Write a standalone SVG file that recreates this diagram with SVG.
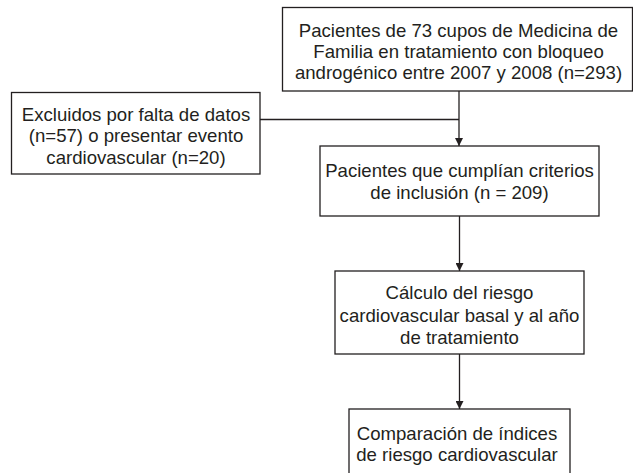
<svg xmlns="http://www.w3.org/2000/svg" width="633" height="473" viewBox="0 0 633 473">
<style>
.box{fill:#fff;stroke:#231f20;stroke-width:1.3}
.t{font-family:"Liberation Sans",Arial,sans-serif;font-size:18.6px;fill:#231f20;text-anchor:middle}
.c{stroke:#231f20;stroke-width:1.3;fill:none}
</style>
<defs>
<marker id="ah" viewBox="0 0 10 10" refX="10" refY="5" markerWidth="8" markerHeight="8" markerUnits="userSpaceOnUse" orient="auto">
<path d="M0,0 L10,5 L0,10 z" fill="#231f20"/>
</marker>
</defs>
<rect width="633" height="473" fill="#fff"/>
<g id="connectors">
<line class="c" x1="459" y1="91" x2="459" y2="146" marker-end="url(#ah)"/>
<line class="c" x1="260" y1="119.5" x2="459" y2="119.5"/>
<line class="c" x1="459.5" y1="216" x2="459.5" y2="271" marker-end="url(#ah)"/>
<line class="c" x1="459.5" y1="354" x2="459.5" y2="409" marker-end="url(#ah)"/>
</g>
<g id="n1">
<rect class="box" x="282.5" y="7.5" width="350" height="83.5"/>
<text class="t" x="458.5" y="36.5">Pacientes de 73 cupos de Medicina de</text>
<text class="t" x="458.5" y="58">Familia en tratamiento con bloqueo</text>
<text class="t" x="458.5" y="79">androgénico entre 2007 y 2008 (n=293)</text>
</g>
<g id="n2">
<rect class="box" x="11.5" y="92.5" width="248.5" height="81.5"/>
<text class="t" x="136" y="120.5">Excluidos por falta de datos</text>
<text class="t" x="136" y="142">(n=57) o presentar evento</text>
<text class="t" x="136" y="164">cardiovascular (n=20)</text>
</g>
<g id="n3">
<rect class="box" x="320" y="146" width="279" height="70"/>
<text class="t" x="459.5" y="176.5">Pacientes que cumplían criterios</text>
<text class="t" x="459.5" y="198.5">de inclusión (n = 209)</text>
</g>
<g id="n4">
<rect class="box" x="335" y="271" width="249" height="83"/>
<text class="t" x="459.5" y="298.5">Cálculo del riesgo</text>
<text class="t" x="459.5" y="321.5">cardiovascular basal y al año</text>
<text class="t" x="459.5" y="343.5">de tratamiento</text>
</g>
<g id="n5">
<rect class="box" x="349" y="409" width="221" height="80"/>
<text class="t" x="457" y="439.5">Comparación de índices</text>
<text class="t" x="457" y="461">de riesgo cardiovascular</text>
</g>
</svg>
